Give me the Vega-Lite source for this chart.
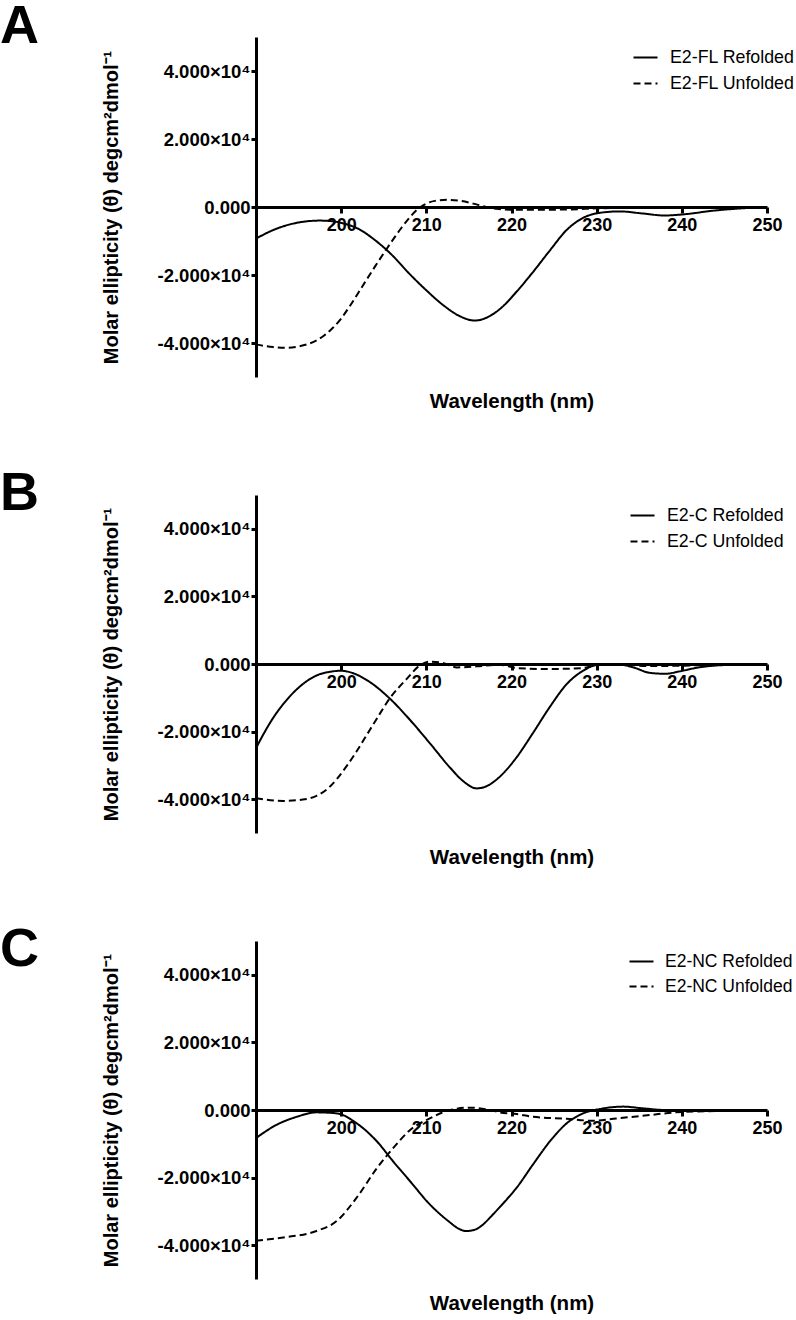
{
  "$schema": "https://vega.github.io/schema/vega-lite/v6.json",
  "padding": 0,
  "background": "white",
  "config": {"view": {"stroke": null}, "font": "Liberation Sans"},
  "spacing": 55,
  "resolve": {"scale": {"strokeDash": "independent"}, "legend": {"strokeDash": "independent"}},
  "vconcat": [
    {
      "width": 511, "height": 340,
      "title": {"text": "A", "anchor": "start", "frame": "group", "orient": "top", "offset": 0, "baseline": "alphabetic", "dx": -256, "dy": 60, "font": "Liberation Sans", "fontSize": 54, "fontWeight": "bold", "color": "black"},
      "data": {"values": [
        {"wavelength": 190, "ellipticity": -9300, "series": "E2-FL Refolded"},
        {"wavelength": 192, "ellipticity": -6800, "series": "E2-FL Refolded"},
        {"wavelength": 194, "ellipticity": -5100, "series": "E2-FL Refolded"},
        {"wavelength": 196, "ellipticity": -4200, "series": "E2-FL Refolded"},
        {"wavelength": 197.5, "ellipticity": -4000, "series": "E2-FL Refolded"},
        {"wavelength": 199, "ellipticity": -4200, "series": "E2-FL Refolded"},
        {"wavelength": 200.5, "ellipticity": -5000, "series": "E2-FL Refolded"},
        {"wavelength": 202, "ellipticity": -6400, "series": "E2-FL Refolded"},
        {"wavelength": 204, "ellipticity": -9800, "series": "E2-FL Refolded"},
        {"wavelength": 206, "ellipticity": -14200, "series": "E2-FL Refolded"},
        {"wavelength": 208, "ellipticity": -19600, "series": "E2-FL Refolded"},
        {"wavelength": 210, "ellipticity": -24500, "series": "E2-FL Refolded"},
        {"wavelength": 212, "ellipticity": -28900, "series": "E2-FL Refolded"},
        {"wavelength": 214, "ellipticity": -32200, "series": "E2-FL Refolded"},
        {"wavelength": 215.7, "ellipticity": -33400, "series": "E2-FL Refolded"},
        {"wavelength": 217.5, "ellipticity": -32000, "series": "E2-FL Refolded"},
        {"wavelength": 219, "ellipticity": -29200, "series": "E2-FL Refolded"},
        {"wavelength": 220.6, "ellipticity": -24900, "series": "E2-FL Refolded"},
        {"wavelength": 222.5, "ellipticity": -19200, "series": "E2-FL Refolded"},
        {"wavelength": 224.5, "ellipticity": -12800, "series": "E2-FL Refolded"},
        {"wavelength": 226.5, "ellipticity": -6700, "series": "E2-FL Refolded"},
        {"wavelength": 228.4, "ellipticity": -3200, "series": "E2-FL Refolded"},
        {"wavelength": 230.4, "ellipticity": -1700, "series": "E2-FL Refolded"},
        {"wavelength": 232.7, "ellipticity": -1300, "series": "E2-FL Refolded"},
        {"wavelength": 235.4, "ellipticity": -1900, "series": "E2-FL Refolded"},
        {"wavelength": 238, "ellipticity": -2500, "series": "E2-FL Refolded"},
        {"wavelength": 240, "ellipticity": -2200, "series": "E2-FL Refolded"},
        {"wavelength": 244, "ellipticity": -1000, "series": "E2-FL Refolded"},
        {"wavelength": 247, "ellipticity": -400, "series": "E2-FL Refolded"},
        {"wavelength": 250, "ellipticity": 0, "series": "E2-FL Refolded"},
        {"wavelength": 190, "ellipticity": -40400, "series": "E2-FL Unfolded"},
        {"wavelength": 192, "ellipticity": -41200, "series": "E2-FL Unfolded"},
        {"wavelength": 193.6, "ellipticity": -41400, "series": "E2-FL Unfolded"},
        {"wavelength": 195, "ellipticity": -41000, "series": "E2-FL Unfolded"},
        {"wavelength": 196, "ellipticity": -40400, "series": "E2-FL Unfolded"},
        {"wavelength": 197, "ellipticity": -39400, "series": "E2-FL Unfolded"},
        {"wavelength": 198, "ellipticity": -37800, "series": "E2-FL Unfolded"},
        {"wavelength": 199, "ellipticity": -35600, "series": "E2-FL Unfolded"},
        {"wavelength": 200, "ellipticity": -32800, "series": "E2-FL Unfolded"},
        {"wavelength": 201, "ellipticity": -29200, "series": "E2-FL Unfolded"},
        {"wavelength": 202, "ellipticity": -25300, "series": "E2-FL Unfolded"},
        {"wavelength": 203, "ellipticity": -21300, "series": "E2-FL Unfolded"},
        {"wavelength": 204, "ellipticity": -17400, "series": "E2-FL Unfolded"},
        {"wavelength": 205, "ellipticity": -13600, "series": "E2-FL Unfolded"},
        {"wavelength": 206, "ellipticity": -9900, "series": "E2-FL Unfolded"},
        {"wavelength": 207, "ellipticity": -6400, "series": "E2-FL Unfolded"},
        {"wavelength": 208, "ellipticity": -3200, "series": "E2-FL Unfolded"},
        {"wavelength": 209, "ellipticity": -600, "series": "E2-FL Unfolded"},
        {"wavelength": 210, "ellipticity": 1000, "series": "E2-FL Unfolded"},
        {"wavelength": 211, "ellipticity": 1800, "series": "E2-FL Unfolded"},
        {"wavelength": 212.5, "ellipticity": 2100, "series": "E2-FL Unfolded"},
        {"wavelength": 214, "ellipticity": 1800, "series": "E2-FL Unfolded"},
        {"wavelength": 215.5, "ellipticity": 1000, "series": "E2-FL Unfolded"},
        {"wavelength": 217, "ellipticity": 0, "series": "E2-FL Unfolded"},
        {"wavelength": 218.5, "ellipticity": -600, "series": "E2-FL Unfolded"},
        {"wavelength": 220, "ellipticity": -800, "series": "E2-FL Unfolded"},
        {"wavelength": 224, "ellipticity": -800, "series": "E2-FL Unfolded"},
        {"wavelength": 227, "ellipticity": -700, "series": "E2-FL Unfolded"},
        {"wavelength": 230, "ellipticity": -400, "series": "E2-FL Unfolded"},
        {"wavelength": 235, "ellipticity": -200, "series": "E2-FL Unfolded"},
        {"wavelength": 240, "ellipticity": -100, "series": "E2-FL Unfolded"},
        {"wavelength": 250, "ellipticity": 0, "series": "E2-FL Unfolded"}
      ]},
      "encoding": {
        "y": {"field": "ellipticity", "type": "quantitative", "scale": {"domain": [-50000, 50000], "nice": false},
          "axis": {"values": [-40000, -20000, 0, 20000, 40000], "labelExpr": "datum.value == 0 ? '0.000' : (datum.value < 0 ? '-' : '') + format(abs(datum.value) / 10000, '.3f') + '×10⁴'", "grid": false, "domainWidth": 3, "domainColor": "black", "tickWidth": 3, "tickColor": "black", "tickSize": 5, "labelFont": "Liberation Sans", "labelFontWeight": "bold", "labelFontSize": 18.5, "labelColor": "black", "labelPadding": 1, "title": "Molar ellipticity (θ) degcm²dmol⁻¹", "titleFont": "Liberation Sans", "titleFontWeight": "bold", "titleFontSize": 20, "titleColor": "black", "titlePadding": 36}},
        "strokeDash": {"field": "series", "type": "nominal", "scale": {"domain": ["E2-FL Refolded", "E2-FL Unfolded"], "range": [[1, 0], [7, 4]]},
          "legend": {"title": null, "orient": "none", "legendX": 376, "legendY": 7, "padding": 0, "symbolType": "stroke", "symbolSize": 576, "symbolStrokeWidth": 2.2, "symbolStrokeColor": "black", "labelFont": "Liberation Sans", "labelFontSize": 17.8, "labelColor": "black", "labelOffset": 11, "rowPadding": 3, "labelLimit": 300}}
      },
      "layer": [
        {
          "transform": [{"filter": {"field": "series", "equal": "E2-FL Refolded"}}],
          "mark": {"type": "line", "interpolate": "monotone", "color": "black", "strokeWidth": 2},
          "encoding": {"x": {"field": "wavelength", "type": "quantitative", "scale": {"domain": [190, 250], "nice": false, "zero": false},
            "axis": {"orient": "bottom", "offset": -170, "values": [200, 210, 220, 230, 240, 250], "format": "d", "grid": false, "domainWidth": 3, "domainColor": "black", "tickWidth": 3, "tickSize": 6, "tickColor": "black", "labelFont": "Liberation Sans", "labelFontWeight": "bold", "labelFontSize": 18, "labelColor": "black", "labelPadding": 3, "labelFlush": false, "labelOverlap": false, "title": null}}}
        },
        {
          "transform": [{"filter": {"field": "series", "equal": "E2-FL Unfolded"}}],
          "mark": {"type": "line", "interpolate": "monotone", "color": "black", "strokeWidth": 2},
          "encoding": {"x": {"field": "wavelength", "type": "quantitative", "scale": {"domain": [190, 250], "nice": false, "zero": false},
            "axis": {"orient": "bottom", "domain": false, "ticks": false, "labels": false, "grid": false, "title": "Wavelength (nm)", "titleFont": "Liberation Sans", "titleFontWeight": "bold", "titleFontSize": 20.5, "titleColor": "black", "titlePadding": 14}}}
        }
      ],
      "resolve": {"axis": {"x": "independent"}}
    },
    {
      "width": 511, "height": 338,
      "title": {"text": "B", "anchor": "start", "frame": "group", "orient": "top", "offset": 0, "baseline": "alphabetic", "dx": -256, "dy": 69, "font": "Liberation Sans", "fontSize": 54, "fontWeight": "bold", "color": "black"},
      "data": {"values": [
        {"wavelength": 190, "ellipticity": -24900, "series": "E2-C Refolded"},
        {"wavelength": 191, "ellipticity": -20200, "series": "E2-C Refolded"},
        {"wavelength": 192, "ellipticity": -16000, "series": "E2-C Refolded"},
        {"wavelength": 193, "ellipticity": -12500, "series": "E2-C Refolded"},
        {"wavelength": 194, "ellipticity": -9500, "series": "E2-C Refolded"},
        {"wavelength": 195, "ellipticity": -7000, "series": "E2-C Refolded"},
        {"wavelength": 196.3, "ellipticity": -4500, "series": "E2-C Refolded"},
        {"wavelength": 197.5, "ellipticity": -3000, "series": "E2-C Refolded"},
        {"wavelength": 198.7, "ellipticity": -2300, "series": "E2-C Refolded"},
        {"wavelength": 200, "ellipticity": -2000, "series": "E2-C Refolded"},
        {"wavelength": 201, "ellipticity": -2400, "series": "E2-C Refolded"},
        {"wavelength": 203.4, "ellipticity": -5400, "series": "E2-C Refolded"},
        {"wavelength": 205.7, "ellipticity": -10200, "series": "E2-C Refolded"},
        {"wavelength": 208.1, "ellipticity": -16600, "series": "E2-C Refolded"},
        {"wavelength": 210.4, "ellipticity": -23400, "series": "E2-C Refolded"},
        {"wavelength": 212.8, "ellipticity": -30700, "series": "E2-C Refolded"},
        {"wavelength": 214.3, "ellipticity": -34600, "series": "E2-C Refolded"},
        {"wavelength": 215.9, "ellipticity": -36800, "series": "E2-C Refolded"},
        {"wavelength": 217.2, "ellipticity": -36000, "series": "E2-C Refolded"},
        {"wavelength": 218.6, "ellipticity": -33400, "series": "E2-C Refolded"},
        {"wavelength": 220.6, "ellipticity": -27600, "series": "E2-C Refolded"},
        {"wavelength": 222.5, "ellipticity": -20500, "series": "E2-C Refolded"},
        {"wavelength": 224.5, "ellipticity": -12700, "series": "E2-C Refolded"},
        {"wavelength": 226.5, "ellipticity": -5900, "series": "E2-C Refolded"},
        {"wavelength": 228.4, "ellipticity": -2000, "series": "E2-C Refolded"},
        {"wavelength": 230, "ellipticity": -300, "series": "E2-C Refolded"},
        {"wavelength": 232.3, "ellipticity": 0, "series": "E2-C Refolded"},
        {"wavelength": 234.3, "ellipticity": -1000, "series": "E2-C Refolded"},
        {"wavelength": 236.2, "ellipticity": -2600, "series": "E2-C Refolded"},
        {"wavelength": 238.1, "ellipticity": -2900, "series": "E2-C Refolded"},
        {"wavelength": 239.7, "ellipticity": -2200, "series": "E2-C Refolded"},
        {"wavelength": 242, "ellipticity": -1000, "series": "E2-C Refolded"},
        {"wavelength": 245, "ellipticity": -300, "series": "E2-C Refolded"},
        {"wavelength": 250, "ellipticity": 0, "series": "E2-C Refolded"},
        {"wavelength": 190, "ellipticity": -39700, "series": "E2-C Unfolded"},
        {"wavelength": 193.2, "ellipticity": -40500, "series": "E2-C Unfolded"},
        {"wavelength": 195.5, "ellipticity": -40100, "series": "E2-C Unfolded"},
        {"wavelength": 197.1, "ellipticity": -39000, "series": "E2-C Unfolded"},
        {"wavelength": 198.5, "ellipticity": -36700, "series": "E2-C Unfolded"},
        {"wavelength": 199.5, "ellipticity": -34000, "series": "E2-C Unfolded"},
        {"wavelength": 200.7, "ellipticity": -30000, "series": "E2-C Unfolded"},
        {"wavelength": 201.8, "ellipticity": -25900, "series": "E2-C Unfolded"},
        {"wavelength": 203, "ellipticity": -21000, "series": "E2-C Unfolded"},
        {"wavelength": 204.2, "ellipticity": -16100, "series": "E2-C Unfolded"},
        {"wavelength": 205.7, "ellipticity": -10200, "series": "E2-C Unfolded"},
        {"wavelength": 207.7, "ellipticity": -4400, "series": "E2-C Unfolded"},
        {"wavelength": 209.2, "ellipticity": -500, "series": "E2-C Unfolded"},
        {"wavelength": 210.4, "ellipticity": 700, "series": "E2-C Unfolded"},
        {"wavelength": 211.9, "ellipticity": 300, "series": "E2-C Unfolded"},
        {"wavelength": 213.6, "ellipticity": -1000, "series": "E2-C Unfolded"},
        {"wavelength": 215.9, "ellipticity": -700, "series": "E2-C Unfolded"},
        {"wavelength": 218.6, "ellipticity": -200, "series": "E2-C Unfolded"},
        {"wavelength": 220.6, "ellipticity": -1200, "series": "E2-C Unfolded"},
        {"wavelength": 224, "ellipticity": -1500, "series": "E2-C Unfolded"},
        {"wavelength": 228.4, "ellipticity": -1200, "series": "E2-C Unfolded"},
        {"wavelength": 230, "ellipticity": -200, "series": "E2-C Unfolded"},
        {"wavelength": 233, "ellipticity": -200, "series": "E2-C Unfolded"},
        {"wavelength": 236, "ellipticity": -600, "series": "E2-C Unfolded"},
        {"wavelength": 240, "ellipticity": -500, "series": "E2-C Unfolded"},
        {"wavelength": 244, "ellipticity": -200, "series": "E2-C Unfolded"},
        {"wavelength": 250, "ellipticity": 0, "series": "E2-C Unfolded"}
      ]},
      "encoding": {
        "y": {"field": "ellipticity", "type": "quantitative", "scale": {"domain": [-50000, 50000], "nice": false},
          "axis": {"values": [-40000, -20000, 0, 20000, 40000], "labelExpr": "datum.value == 0 ? '0.000' : (datum.value < 0 ? '-' : '') + format(abs(datum.value) / 10000, '.3f') + '×10⁴'", "grid": false, "domainWidth": 3, "domainColor": "black", "tickWidth": 3, "tickColor": "black", "tickSize": 5, "labelFont": "Liberation Sans", "labelFontWeight": "bold", "labelFontSize": 18.5, "labelColor": "black", "labelPadding": 1, "title": "Molar ellipticity (θ) degcm²dmol⁻¹", "titleFont": "Liberation Sans", "titleFontWeight": "bold", "titleFontSize": 20, "titleColor": "black", "titlePadding": 36}},
        "strokeDash": {"field": "series", "type": "nominal", "scale": {"domain": ["E2-C Refolded", "E2-C Unfolded"], "range": [[1, 0], [7, 4]]},
          "legend": {"title": null, "orient": "none", "legendX": 373, "legendY": 7, "padding": 0, "symbolType": "stroke", "symbolSize": 576, "symbolStrokeWidth": 2.2, "symbolStrokeColor": "black", "labelFont": "Liberation Sans", "labelFontSize": 17.8, "labelColor": "black", "labelOffset": 11, "rowPadding": 3, "labelLimit": 300}}
      },
      "layer": [
        {
          "transform": [{"filter": {"field": "series", "equal": "E2-C Refolded"}}],
          "mark": {"type": "line", "interpolate": "monotone", "color": "black", "strokeWidth": 2},
          "encoding": {"x": {"field": "wavelength", "type": "quantitative", "scale": {"domain": [190, 250], "nice": false, "zero": false},
            "axis": {"orient": "bottom", "offset": -169, "values": [200, 210, 220, 230, 240, 250], "format": "d", "grid": false, "domainWidth": 3, "domainColor": "black", "tickWidth": 3, "tickSize": 6, "tickColor": "black", "labelFont": "Liberation Sans", "labelFontWeight": "bold", "labelFontSize": 18, "labelColor": "black", "labelPadding": 3, "labelFlush": false, "labelOverlap": false, "title": null}}}
        },
        {
          "transform": [{"filter": {"field": "series", "equal": "E2-C Unfolded"}}],
          "mark": {"type": "line", "interpolate": "monotone", "color": "black", "strokeWidth": 2},
          "encoding": {"x": {"field": "wavelength", "type": "quantitative", "scale": {"domain": [190, 250], "nice": false, "zero": false},
            "axis": {"orient": "bottom", "domain": false, "ticks": false, "labels": false, "grid": false, "title": "Wavelength (nm)", "titleFont": "Liberation Sans", "titleFontWeight": "bold", "titleFontSize": 20.5, "titleColor": "black", "titlePadding": 14}}}
        }
      ],
      "resolve": {"axis": {"x": "independent"}}
    },
    {
      "width": 511, "height": 338,
      "title": {"text": "C", "anchor": "start", "frame": "group", "orient": "top", "offset": 0, "baseline": "alphabetic", "dx": -256, "dy": 79, "font": "Liberation Sans", "fontSize": 54, "fontWeight": "bold", "color": "black"},
      "data": {"values": [
        {"wavelength": 190, "ellipticity": -8300, "series": "E2-NC Refolded"},
        {"wavelength": 192.4, "ellipticity": -4400, "series": "E2-NC Refolded"},
        {"wavelength": 194.8, "ellipticity": -2000, "series": "E2-NC Refolded"},
        {"wavelength": 197.1, "ellipticity": -700, "series": "E2-NC Refolded"},
        {"wavelength": 199.5, "ellipticity": -1000, "series": "E2-NC Refolded"},
        {"wavelength": 201.8, "ellipticity": -3900, "series": "E2-NC Refolded"},
        {"wavelength": 204.2, "ellipticity": -9300, "series": "E2-NC Refolded"},
        {"wavelength": 206.1, "ellipticity": -15200, "series": "E2-NC Refolded"},
        {"wavelength": 208.1, "ellipticity": -21100, "series": "E2-NC Refolded"},
        {"wavelength": 210.4, "ellipticity": -27900, "series": "E2-NC Refolded"},
        {"wavelength": 212.8, "ellipticity": -33300, "series": "E2-NC Refolded"},
        {"wavelength": 213.7, "ellipticity": -35000, "series": "E2-NC Refolded"},
        {"wavelength": 214.7, "ellipticity": -35800, "series": "E2-NC Refolded"},
        {"wavelength": 215.7, "ellipticity": -35400, "series": "E2-NC Refolded"},
        {"wavelength": 216.7, "ellipticity": -33800, "series": "E2-NC Refolded"},
        {"wavelength": 217.6, "ellipticity": -31500, "series": "E2-NC Refolded"},
        {"wavelength": 218.6, "ellipticity": -28800, "series": "E2-NC Refolded"},
        {"wavelength": 219.6, "ellipticity": -26000, "series": "E2-NC Refolded"},
        {"wavelength": 220.6, "ellipticity": -23000, "series": "E2-NC Refolded"},
        {"wavelength": 222.5, "ellipticity": -16200, "series": "E2-NC Refolded"},
        {"wavelength": 224.5, "ellipticity": -9300, "series": "E2-NC Refolded"},
        {"wavelength": 226.5, "ellipticity": -3900, "series": "E2-NC Refolded"},
        {"wavelength": 228.4, "ellipticity": -1000, "series": "E2-NC Refolded"},
        {"wavelength": 230.4, "ellipticity": 300, "series": "E2-NC Refolded"},
        {"wavelength": 233.1, "ellipticity": 1000, "series": "E2-NC Refolded"},
        {"wavelength": 235.4, "ellipticity": 500, "series": "E2-NC Refolded"},
        {"wavelength": 238.1, "ellipticity": 0, "series": "E2-NC Refolded"},
        {"wavelength": 244, "ellipticity": 0, "series": "E2-NC Refolded"},
        {"wavelength": 250, "ellipticity": 0, "series": "E2-NC Refolded"},
        {"wavelength": 190, "ellipticity": -38700, "series": "E2-NC Unfolded"},
        {"wavelength": 193.2, "ellipticity": -37700, "series": "E2-NC Unfolded"},
        {"wavelength": 197.1, "ellipticity": -35800, "series": "E2-NC Unfolded"},
        {"wavelength": 199.5, "ellipticity": -32800, "series": "E2-NC Unfolded"},
        {"wavelength": 201.8, "ellipticity": -26000, "series": "E2-NC Unfolded"},
        {"wavelength": 204.2, "ellipticity": -17200, "series": "E2-NC Unfolded"},
        {"wavelength": 206.1, "ellipticity": -11300, "series": "E2-NC Unfolded"},
        {"wavelength": 208.1, "ellipticity": -5900, "series": "E2-NC Unfolded"},
        {"wavelength": 210.4, "ellipticity": -2500, "series": "E2-NC Unfolded"},
        {"wavelength": 212.8, "ellipticity": 0, "series": "E2-NC Unfolded"},
        {"wavelength": 215.1, "ellipticity": 700, "series": "E2-NC Unfolded"},
        {"wavelength": 217.5, "ellipticity": 0, "series": "E2-NC Unfolded"},
        {"wavelength": 218.6, "ellipticity": -700, "series": "E2-NC Unfolded"},
        {"wavelength": 220.6, "ellipticity": -1200, "series": "E2-NC Unfolded"},
        {"wavelength": 222.5, "ellipticity": -2000, "series": "E2-NC Unfolded"},
        {"wavelength": 226.5, "ellipticity": -2600, "series": "E2-NC Unfolded"},
        {"wavelength": 229.6, "ellipticity": -3200, "series": "E2-NC Unfolded"},
        {"wavelength": 232.3, "ellipticity": -2500, "series": "E2-NC Unfolded"},
        {"wavelength": 236.2, "ellipticity": -1500, "series": "E2-NC Unfolded"},
        {"wavelength": 239.3, "ellipticity": -700, "series": "E2-NC Unfolded"},
        {"wavelength": 244, "ellipticity": -300, "series": "E2-NC Unfolded"},
        {"wavelength": 250, "ellipticity": 0, "series": "E2-NC Unfolded"}
      ]},
      "encoding": {
        "y": {"field": "ellipticity", "type": "quantitative", "scale": {"domain": [-50000, 50000], "nice": false},
          "axis": {"values": [-40000, -20000, 0, 20000, 40000], "labelExpr": "datum.value == 0 ? '0.000' : (datum.value < 0 ? '-' : '') + format(abs(datum.value) / 10000, '.3f') + '×10⁴'", "grid": false, "domainWidth": 3, "domainColor": "black", "tickWidth": 3, "tickColor": "black", "tickSize": 5, "labelFont": "Liberation Sans", "labelFontWeight": "bold", "labelFontSize": 18.5, "labelColor": "black", "labelPadding": 1, "title": "Molar ellipticity (θ) degcm²dmol⁻¹", "titleFont": "Liberation Sans", "titleFontWeight": "bold", "titleFontSize": 20, "titleColor": "black", "titlePadding": 36}},
        "strokeDash": {"field": "series", "type": "nominal", "scale": {"domain": ["E2-NC Refolded", "E2-NC Unfolded"], "range": [[1, 0], [7, 4]]},
          "legend": {"title": null, "orient": "none", "legendX": 372, "legendY": 7, "padding": 0, "symbolType": "stroke", "symbolSize": 576, "symbolStrokeWidth": 2.2, "symbolStrokeColor": "black", "labelFont": "Liberation Sans", "labelFontSize": 17.5, "labelColor": "black", "labelOffset": 10, "rowPadding": 3, "labelLimit": 300}}
      },
      "layer": [
        {
          "transform": [{"filter": {"field": "series", "equal": "E2-NC Refolded"}}],
          "mark": {"type": "line", "interpolate": "monotone", "color": "black", "strokeWidth": 2},
          "encoding": {"x": {"field": "wavelength", "type": "quantitative", "scale": {"domain": [190, 250], "nice": false, "zero": false},
            "axis": {"orient": "bottom", "offset": -169, "values": [200, 210, 220, 230, 240, 250], "format": "d", "grid": false, "domainWidth": 3, "domainColor": "black", "tickWidth": 3, "tickSize": 6, "tickColor": "black", "labelFont": "Liberation Sans", "labelFontWeight": "bold", "labelFontSize": 18, "labelColor": "black", "labelPadding": 3, "labelFlush": false, "labelOverlap": false, "title": null}}}
        },
        {
          "transform": [{"filter": {"field": "series", "equal": "E2-NC Unfolded"}}],
          "mark": {"type": "line", "interpolate": "monotone", "color": "black", "strokeWidth": 2},
          "encoding": {"x": {"field": "wavelength", "type": "quantitative", "scale": {"domain": [190, 250], "nice": false, "zero": false},
            "axis": {"orient": "bottom", "domain": false, "ticks": false, "labels": false, "grid": false, "title": "Wavelength (nm)", "titleFont": "Liberation Sans", "titleFontWeight": "bold", "titleFontSize": 20.5, "titleColor": "black", "titlePadding": 14}}}
        }
      ],
      "resolve": {"axis": {"x": "independent"}}
    }
  ]
}
